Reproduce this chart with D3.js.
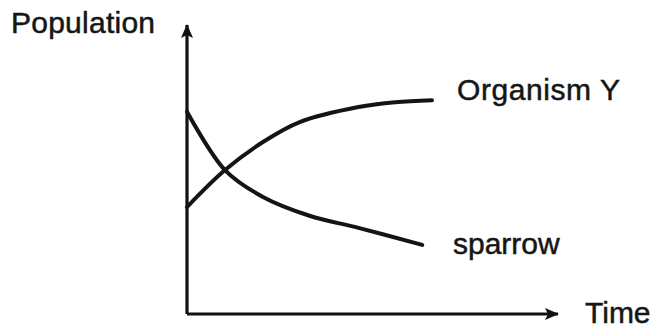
<!DOCTYPE html>
<html>
<head>
<meta charset="utf-8">
<script src="https://cdn.jsdelivr.net/npm/d3@7"></script>
<style>
  body { margin: 0; background: #fff; }
  text { font-family: "Liberation Sans", Arial, sans-serif; fill: #161616; stroke: #161616; stroke-width: 0.5; }
</style>
</head>
<body>
<svg id="chart" width="656" height="329"></svg>
<script>
// values (time 0..10, population 0..100)
var sparrowTime = [0, 1.55, 3.1, 5, 7, 9.6];
var sparrowPop  = [70, 49.8, 40.5, 34, 29.8, 23.9];
var organismTime = [0, 1.55, 3.1, 4.6, 7, 8.5, 10];
var organismPop  = [37, 49.8, 59.5, 66.4, 71.6, 73.3, 74];
var seriesNames = ["sparrow", "Organism Y"];
var axisLabels = ["Population", "Time"];

var svg = d3.select("#chart");

var x = d3.scaleLinear().domain([0, 10]).range([187, 432]);
var y = d3.scaleLinear().domain([0, 100]).range([314, 25]);

var defs = svg.append("defs");
defs.append("marker")
    .attr("id", "arrow")
    .attr("viewBox", "0 0 14 12")
    .attr("refX", 13).attr("refY", 6)
    .attr("markerWidth", 14).attr("markerHeight", 12)
    .attr("markerUnits", "userSpaceOnUse")
    .attr("orient", "auto")
  .append("path")
    .attr("d", "M0,0 L14,6 L0,12 L3,6 Z")
    .attr("fill", "#111");

// axes: no ticks, just the arrowed lines
var xEnd = 558;
svg.append("line")
    .attr("x1", x(0)).attr("y1", y(0))
    .attr("x2", xEnd).attr("y2", y(0))
    .attr("stroke", "#111").attr("stroke-width", 3.2)
    .attr("marker-end", "url(#arrow)");
svg.append("line")
    .attr("x1", x(0)).attr("y1", y(0))
    .attr("x2", x(0)).attr("y2", y(100))
    .attr("stroke", "#111").attr("stroke-width", 3.2)
    .attr("marker-end", "url(#arrow)");

var line = d3.line()
    .x(d => x(d[0]))
    .y(d => y(d[1]))
    .curve(d3.curveCatmullRom.alpha(0.5));

var series = [
  d3.zip(sparrowTime, sparrowPop),
  d3.zip(organismTime, organismPop)
];

svg.selectAll(".curve")
  .data(series).enter().append("path")
    .attr("class", "curve")
    .attr("d", line)
    .attr("fill", "none")
    .attr("stroke", "#141414")
    .attr("stroke-width", 4)
    .attr("stroke-linecap", "round");

// labels
svg.append("text")
    .attr("x", 11).attr("y", 33)
    .attr("font-size", 30)
    .attr("textLength", 144)
    .text(axisLabels[0]);
svg.append("text")
    .attr("x", 585).attr("y", 323)
    .attr("font-size", 30)
    .text(axisLabels[1]);
svg.append("text")
    .attr("x", 457).attr("y", 100)
    .attr("font-size", 30)
    .attr("textLength", 163)
    .text(seriesNames[1]);
svg.append("text")
    .attr("x", 453).attr("y", 254)
    .attr("font-size", 30)
    .text(seriesNames[0]);
</script>
</body>
</html>
